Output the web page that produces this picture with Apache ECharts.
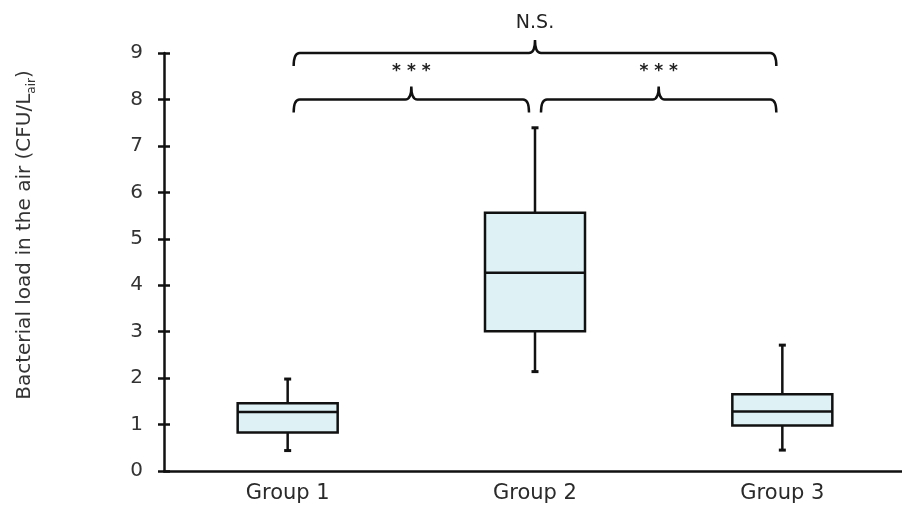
<!DOCTYPE html>
<html><head><meta charset="utf-8">
<script src="https://cdn.jsdelivr.net/npm/echarts@6/dist/echarts.min.js"></script>
<style>html,body{margin:0;padding:0;background:#fff}#c{width:902px;height:507px}</style>
</head><body><div id="c"></div>
<script>
// ---- data ----
const categories = ['Group 1', 'Group 2', 'Group 3'];
const whiskerMin = [0.44, 2.14, 0.45];
const q1 = [0.83, 3.01, 0.98];
const median = [1.27, 4.27, 1.28];
const q3 = [1.46, 5.56, 1.65];
const whiskerMax = [1.98, 7.39, 2.71];
const yMin = 0, yMax = 9, yStep = 1;
// significance brackets
const compFrom = [0, 0, 1];
const compTo = [2, 1, 2];
const compLevel = [9, 8, 8];
const compLabel = ['N.S.', '* * *', '* * *'];

const FONT = '"DejaVu Sans", sans-serif';
const INK = '#111';

const boxData = categories.map((c, i) => [i, whiskerMin[i], q1[i], median[i], q3[i], whiskerMax[i]]);
const bracketData = compFrom.map((f, i) => [f, compLevel[i], compTo[i], i]);

function renderBox(params, api) {
  const i = api.value(0);
  const x = api.coord([i, 0])[0];
  const pMin = api.coord([i, api.value(1)])[1];
  const pQ1 = api.coord([i, api.value(2)])[1];
  const pMed = api.coord([i, api.value(3)])[1];
  const pQ3 = api.coord([i, api.value(4)])[1];
  const pMax = api.coord([i, api.value(5)])[1];
  const hw = 50, cap = 3.5;
  const ls = { stroke: INK, lineWidth: 2.5 };
  return { type: 'group', children: [
    { type: 'line', shape: { x1: x, y1: pMax, x2: x, y2: pQ3 }, style: ls },
    { type: 'line', shape: { x1: x, y1: pQ1, x2: x, y2: pMin }, style: ls },
    { type: 'line', shape: { x1: x - cap, y1: pMax, x2: x + cap, y2: pMax }, style: { stroke: INK, lineWidth: 3 } },
    { type: 'line', shape: { x1: x - cap, y1: pMin, x2: x + cap, y2: pMin }, style: { stroke: INK, lineWidth: 3 } },
    { type: 'rect', shape: { x: x - hw, y: pQ3, width: 2 * hw, height: pQ1 - pQ3 }, style: { fill: '#def2f6', stroke: INK, lineWidth: 2.5 } },
    { type: 'line', shape: { x1: x - hw, y1: pMed, x2: x + hw, y2: pMed }, style: ls }
  ]};
}

function renderBracket(params, api) {
  const a = api.coord([api.value(0), api.value(1)]);
  const b = api.coord([api.value(2), api.value(1)]);
  const idx = api.value(3);
  const py = a[1];
  const xl = a[0] + 6, xr = b[0] - 6, xm = (xl + xr) / 2;
  const d = 13, r = 6, tip = 13;
  const path = 'M' + xl + ',' + (py + d) +
    ' Q' + xl + ',' + py + ' ' + (xl + r) + ',' + py +
    ' L' + (xm - r) + ',' + py +
    ' Q' + xm + ',' + py + ' ' + xm + ',' + (py - tip) +
    ' Q' + xm + ',' + py + ' ' + (xm + r) + ',' + py +
    ' L' + (xr - r) + ',' + py +
    ' Q' + xr + ',' + py + ' ' + xr + ',' + (py + d);
  const isStar = compLabel[idx].indexOf('*') >= 0;
  return { type: 'group', children: [
    { type: 'path', shape: { pathData: path }, style: { stroke: INK, lineWidth: 2.5, fill: null } },
    { type: 'text', x: xm, y: py - (isStar ? 28 : 30), style: { text: compLabel[idx], textAlign: 'center', textVerticalAlign: 'middle', fontSize: isStar ? 17 : 19, fontWeight: isStar ? 'bold' : 'normal', fontFamily: FONT, fill: '#222' } }
  ]};
}

const chart = echarts.init(document.getElementById('c'), null, { renderer: 'canvas' });
chart.setOption({
  backgroundColor: '#fff',
  animation: false,
  grid: { left: 164, right: -4, top: 53, bottom: 36, outerBoundsMode: 'none', containLabel: false },
  xAxis: {
    type: 'category', data: categories, boundaryGap: true,
    axisLine: { lineStyle: { color: INK, width: 2.5 } },
    axisTick: { show: false },
    axisLabel: { fontSize: 21, color: '#2a2a2a', fontFamily: FONT, margin: 12 },
    splitLine: { show: false }
  },
  yAxis: [{
    type: 'value', min: yMin, max: yMax, interval: yStep, position: 'left',
    name: '{a|Bacterial load in the air (CFU/L}{s|air}{a|)}',
    nameLocation: 'middle', nameGap: 126, nameRotate: 90,
    nameTextStyle: { padding: [0, 0, 0, 54], rich: {
      a: { fontSize: 20, color: '#333', fontFamily: FONT, lineHeight: 26 },
      s: { fontSize: 12, color: '#333', fontFamily: FONT, lineHeight: 13, verticalAlign: 'bottom' }
    } },
    axisLine: { show: true, lineStyle: { color: INK, width: 2.5 } },
    axisTick: { show: true, inside: true, length: 6, lineStyle: { color: INK, width: 2.5 } },
    axisLabel: { fontSize: 20, color: '#333', fontFamily: FONT, margin: 21 },
    splitLine: { show: false }
  }, {
    type: 'value', min: yMin, max: yMax, interval: yStep, position: 'right', offset: -742,
    axisLine: { show: false },
    axisTick: { show: true, inside: true, length: 6, lineStyle: { color: INK, width: 2.5 } },
    axisLabel: { show: false },
    splitLine: { show: false }
  }],
  series: [
    { type: 'custom', renderItem: renderBox, data: boxData, encode: { x: 0, y: [1, 2, 3, 4, 5] }, z: 3 },
    { type: 'custom', renderItem: renderBracket, data: bracketData, encode: { x: 0, y: 1 }, clip: false, z: 4 }
  ]
});
</script></body></html>
